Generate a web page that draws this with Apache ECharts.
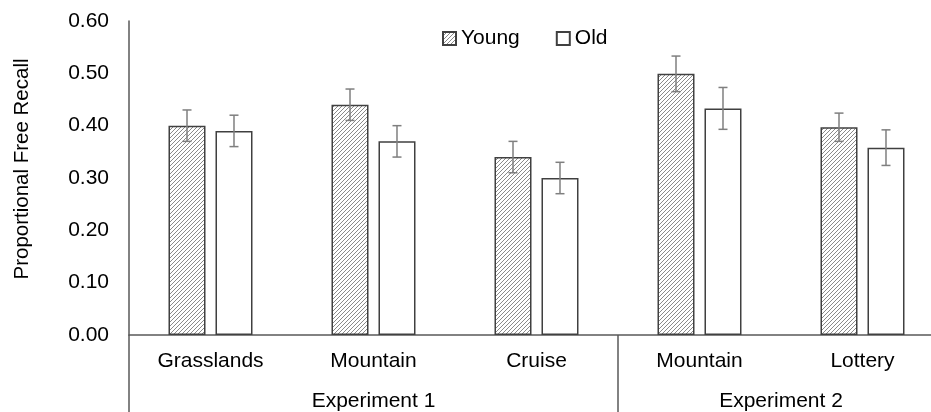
<!DOCTYPE html>
<html><head><meta charset="utf-8">
<script src="https://cdn.jsdelivr.net/npm/echarts@6/dist/echarts.min.js"></script>
<style>html,body{margin:0;padding:0;background:#fff}#c{width:931px;height:412px}</style>
</head><body><div id="c"></div>
<script>
var categories = ['Grasslands', 'Mountain', 'Cruise', 'Mountain', 'Lottery'];
var groups = ['Experiment 1', 'Experiment 2'];
var groupCenters = [1.5, 4];
var groupBounds = [0, 3, 5];
var youngValues = [0.40, 0.44, 0.34, 0.499, 0.397];
var oldValues = [0.39, 0.37, 0.30, 0.433, 0.358];
var youngErr = [0.03, 0.03, 0.03, 0.034, 0.027];
var oldErr = [0.03, 0.03, 0.03, 0.04, 0.034];
var yTicks = [0, 0.1, 0.2, 0.3, 0.4, 0.5, 0.6];

var FONT = 'Liberation Sans, Arial, sans-serif';
var FS = 21;
var BAR_W = 0.227, GAP = 0.27;

function hatch() {
  var n = 4;
  var c = document.createElement('canvas');
  c.width = n; c.height = n;
  var g = c.getContext('2d');
  g.fillStyle = '#fff'; g.fillRect(0, 0, n, n);
  g.strokeStyle = '#8a8a8a'; g.lineWidth = 1;
  g.beginPath();
  for (var k = -2; k <= 2; k++) {
    g.moveTo(k * n - 1, n + 1); g.lineTo(k * n + n + 1, -1);
  }
  g.stroke();
  return c;
}
var pattern = { image: hatch(), repeat: 'repeat' };

function errSeries(vals, errs, side) {
  var data = vals.map(function (v, i) { return [i, v, errs[i]]; });
  return {
    type: 'custom', xAxisIndex: 0, yAxisIndex: 0, z: 10,
    renderItem: function (params, api) {
      var i = api.value(0), v = api.value(1), e = api.value(2);
      var band = api.size([1, 0])[0];
      var bw = band * BAR_W;
      var off = side * bw * (1 + GAP) / 2;
      var top = api.coord([i, v + e]);
      var bot = api.coord([i, v - e]);
      var x = top[0] + off;
      var cap = 4.5;
      var st = { stroke: '#7f7f7f', lineWidth: 1.5 };
      return { type: 'group', children: [
        { type: 'line', shape: { x1: x, y1: top[1], x2: x, y2: bot[1] }, style: st },
        { type: 'line', shape: { x1: x - cap, y1: top[1], x2: x + cap, y2: top[1] }, style: st },
        { type: 'line', shape: { x1: x - cap, y1: bot[1], x2: x + cap, y2: bot[1] }, style: st }
      ]};
    },
    data: data
  };
}

var chart = echarts.init(document.getElementById('c'), null, { renderer: 'canvas' });
chart.setOption({
  animation: false,
  textStyle: { fontFamily: FONT },
  legend: {
    top: 23, left: 437, itemWidth: 13, itemHeight: 13, itemGap: 36, icon: 'rect',
    textStyle: { fontSize: FS, color: '#000', fontFamily: FONT },
    data: ['Young', 'Old']
  },
  grid: { left: 129, width: 815, top: 21, bottom: 77, containLabel: false, outerBoundsMode: 'none' },
  xAxis: [{
    type: 'category', data: categories, position: 'bottom',
    axisLine: { show: true, lineStyle: { color: '#595959', width: 1.5 } },
    axisTick: { show: false },
    axisLabel: { fontSize: FS, color: '#000', margin: 16, fontFamily: FONT }
  }, {
    type: 'value', min: 0, max: 5, position: 'bottom',
    axisLine: { show: false },
    splitLine: { show: false },
    axisTick: { show: true, customValues: groupBounds, length: 77, lineStyle: { color: '#595959', width: 1.5 } },
    axisLabel: {
      customValues: groupCenters, fontSize: FS, color: '#000', margin: 56, fontFamily: FONT,
      formatter: function (v) { var i = groupCenters.indexOf(v); return i >= 0 ? groups[i] : ''; }
    }
  }],
  yAxis: {
    type: 'value', min: 0, max: 0.6, interval: 0.1,
    name: 'Proportional Free Recall', nameLocation: 'middle', nameGap: 96, nameRotate: 90,
    nameTextStyle: { fontSize: 20.5, color: '#000', fontFamily: FONT, padding: [0, 0, 0, 18] },
    axisLine: { show: true, lineStyle: { color: '#595959', width: 1.5 } },
    axisTick: { show: false },
    splitLine: { show: false },
    axisLabel: { fontSize: FS, color: '#000', margin: 20, fontFamily: FONT,
      formatter: function (v) { return v.toFixed(2); } }
  },
  series: [{
    name: 'Young', type: 'bar', data: youngValues, barWidth: (BAR_W * 100) + '%', barGap: (GAP * 100) + '%',
    itemStyle: { color: pattern, borderColor: '#404040', borderWidth: 1.5 }
  }, {
    name: 'Old', type: 'bar', data: oldValues, barWidth: (BAR_W * 100) + '%',
    itemStyle: { color: '#fff', borderColor: '#404040', borderWidth: 1.5 }
  }, errSeries(youngValues, youngErr, -1), errSeries(oldValues, oldErr, 1)]
});
</script></body></html>
